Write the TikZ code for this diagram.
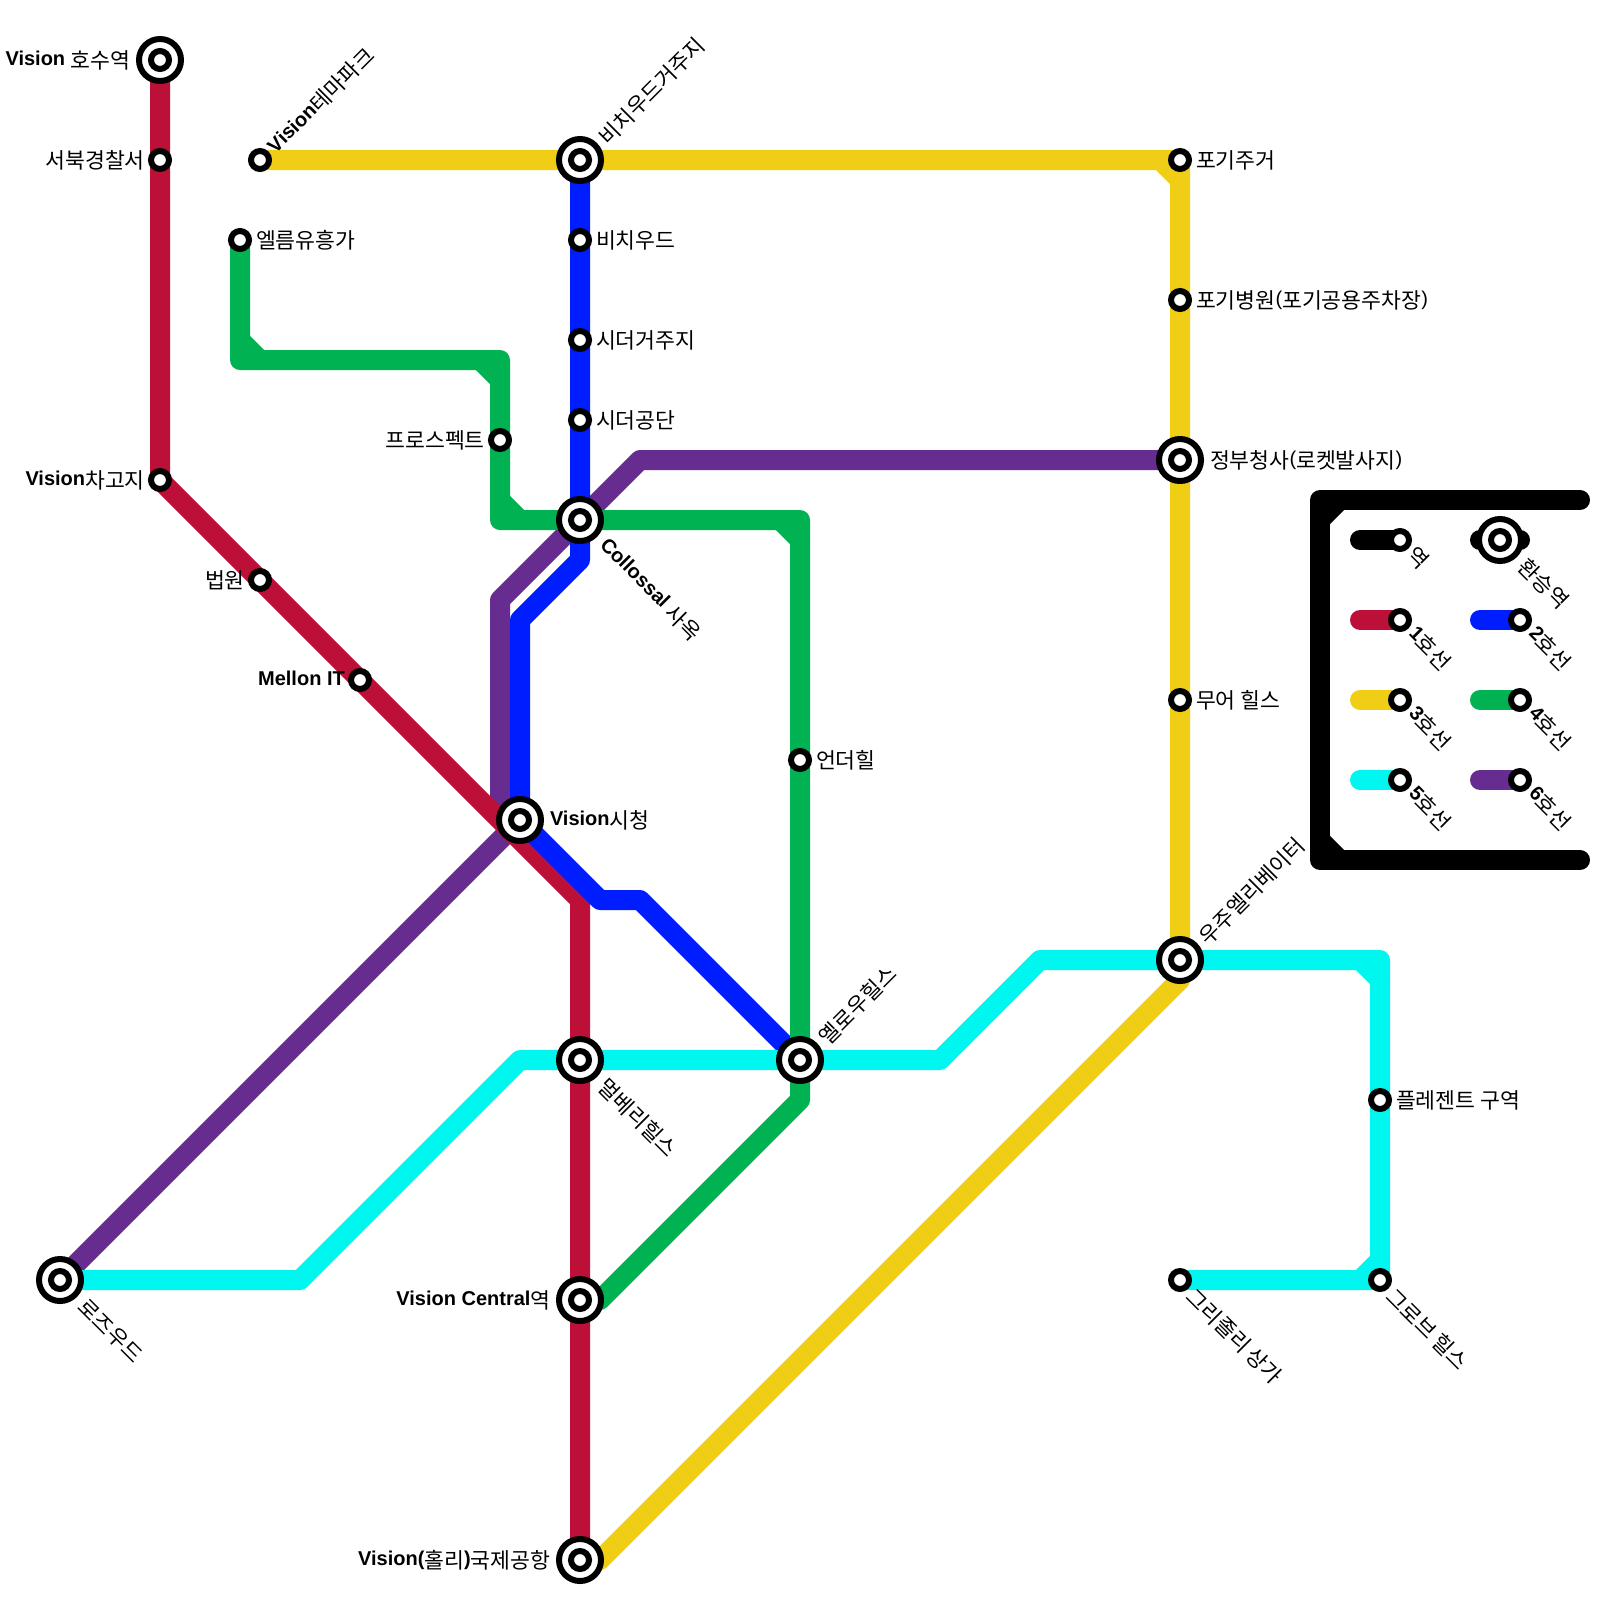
\documentclass[tikz,border=0pt]{standalone}
\usepackage{fontspec}
\setmainfont{Liberation Sans}
\newfontfamily\krfont[Scale=1.08]{Noto Sans CJK KR}
\newcommand{\hg}[1]{\raisebox{-2.1pt}{\krfont #1}}
\usetikzlibrary{backgrounds}
\definecolor{lred}{HTML}{BD1038}
\definecolor{lblue}{HTML}{001DFF}
\definecolor{lyellow}{HTML}{F0CE15}
\definecolor{lgreen}{HTML}{00B251}
\definecolor{lcyan}{HTML}{00F7EF}
\definecolor{lpurple}{HTML}{662C90}
\tikzset{
  stn/.style={circle,draw=black,fill=white,line width=0.15cm,minimum size=0.45cm,inner sep=0,outer sep=0},
  hub/.style={stn,minimum size=1.05cm},
  lbl/.style={inner sep=0,outer sep=0,font=\fontsize{14.23}{17}\selectfont},
  tr/.style={lbl,anchor=base west,xshift=0.4cm,yshift=-0.14cm},
  tl/.style={lbl,anchor=base east,xshift=-0.38cm,yshift=-0.14cm},
  hr/.style={lbl,anchor=base west,xshift=0.75cm,yshift=-0.14cm},
  hl/.style={lbl,anchor=base east,xshift=-0.74cm,yshift=-0.14cm},
  tup/.style={lbl,anchor=base west,shift={(0.78,-0.3)},rotate=45},
  hup/.style={lbl,anchor=base west,shift={(1.3,-0.8)},rotate=45},
  tdn/.style={lbl,anchor=base west,shift={(0.35,0.8)},rotate=-45},
  hdn/.style={lbl,anchor=base west,shift={(0.95,1.3)},rotate=-45},
  key/.style={lbl,anchor=base west,shift={(0.4,0.7)},rotate=-45},
  line/.style={line width=0.5cm,line cap=round,line join=round},
}

\begin{document}
\begin{tikzpicture}[x=0.5cm,y=-0.5cm]
\useasboundingbox (0,0) rectangle (80,80);

% stations
\node[hub] (lake) at (8,3) {};
\node[stn] (police) at (8,8) {};
\node[stn] (depot) at (8,24) {};
\node[stn] (court) at (13,29) {};
\node[stn] (mellon) at (18,34) {};
\node[hub] (cityhall) at (26,41) {};
\node[hub] (mulberry) at (29,53) {};
\node[hub] (central) at (29,65) {};
\node[hub] (airport) at (29,78) {};
\node[stn] (themepark) at (13,8) {};
\node[stn] (elm) at (12,12) {};
\node[stn] (prospect) at (25,22) {};
\node[hub] (beachres) at (29,8) {};
\node[stn] (beach) at (29,12) {};
\node[stn] (cedarres) at (29,17) {};
\node[stn] (cedarind) at (29,21) {};
\node[hub] (collossal) at (29,26) {};
\node[stn] (under) at (40,38) {};
\node[hub] (yellowh) at (40,53) {};
\node[stn] (pogires) at (59,8) {};
\node[stn] (hospital) at (59,15) {};
\node[hub] (gov) at (59,23) {};
\node[stn] (moor) at (59,35) {};
\node[hub] (elevator) at (59,48) {};
\node[stn] (pleasant) at (69,55) {};
\node[stn] (grove) at (69,64) {};
\node[stn] (grizzly) at (59,64) {};
\node[hub] (rosewood) at (3,64) {};
\foreach \h in {lake,cityhall,mulberry,central,airport,beachres,collossal,yellowh,gov,elevator,rosewood}
  \node[stn] (\h-in) at (\h) {};

% labels
\node[hl] (t-lake) at (lake) {\textbf{Vision} \hg{호수역}};
\node[tl] (t-police) at (police) {\hg{서북경찰서}};
\node[tl] (t-depot) at (depot) {\textbf{Vision}\hg{차고지}};
\node[tl] (t-court) at (court) {\hg{법원}};
\node[tl] (t-mellon) at (mellon) {\textbf{Mellon IT}};
\node[hr] (t-cityhall) at (cityhall) {\textbf{Vision}\hg{시청}};
\node[hdn] (t-mulberry) at (mulberry) {\hg{멀베리힐스}};
\node[hl] (t-central) at (central) {\textbf{Vision Central}\hg{역}};
\node[hl] (t-airport) at (airport) {\textbf{Vision(}\hg{홀리}\textbf{)}\hg{국제공항}};
\node[tup] (t-themepark) at (themepark) {\textbf{Vision}\hg{테마파크}};
\node[tr] (t-elm) at (elm) {\hg{엘름유흥가}};
\node[tl] (t-prospect) at (prospect) {\hg{프로스펙트}};
\node[hup] (t-beachres) at (beachres) {\hg{비치우드거주지}};
\node[tr] (t-beach) at (beach) {\hg{비치우드}};
\node[tr] (t-cedarres) at (cedarres) {\hg{시더거주지}};
\node[tr] (t-cedarind) at (cedarind) {\hg{시더공단}};
\node[hdn] (t-collossal) at (collossal) {\textbf{Collossal} \hg{사옥}};
\node[tr] (t-under) at (under) {\hg{언더힐}};
\node[hup] (t-yellowh) at (yellowh) {\hg{옐로우힐스}};
\node[tr] (t-pogires) at (pogires) {\hg{포기주거}};
\node[tr] (t-hospital) at (hospital) {\hg{포기병원}(\hg{포기공용주차장})};
\node[hr] (t-gov) at (gov) {\hg{정부청사}(\hg{로켓발사지})};
\node[tr] (t-moor) at (moor) {\hg{무어 힐스}};
\node[hup] (t-elevator) at (elevator) {\hg{우주엘리베이터}};
\node[tr] (t-pleasant) at (pleasant) {\hg{플레젠트 구역}};
\node[tdn] (t-grove) at (grove) {\hg{그로브 힐스}};
\node[tdn] (t-grizzly) at (grizzly) {\hg{그리졸리 상가}};
\node[hdn] (t-rosewood) at (rosewood) {\hg{로즈우드}};

% key
\foreach \k/\x/\y/\cl/\num in {a/70/31/lred/1,b/76/31/lblue/2,c/70/35/lyellow/3,d/76/35/lgreen/4,e/70/39/lcyan/5,f/76/39/lpurple/6}{
  \node[stn] (key-\k) at (\x,\y) {};
  \coordinate (keyl-\k) at (\x-2,\y);
  \begin{scope}[on background layer]
  \draw[line,\cl] (keyl-\k) -- (key-\k.center);
  \end{scope}
  \node[key] (t-key-\k) at (key-\k) {\textbf{\num}\hg{호선}};
}
\node[stn] (key-st) at (70,27) {};
\coordinate (keyl-st) at (68,27);
\node[key] (t-key-st) at (key-st) {\hg{역}};
\node[hub] (key-h) at (75,27) {};
\node[stn] (key-h-in) at (key-h) {};
\coordinate (keyl-h) at (74,27);
\coordinate (keyr-h) at (76,27);
\node[hdn] (t-key-h) at (key-h) {\hg{환승역}};

% bends
\coordinate (r2) at (29,45);
\coordinate (b1) at (29,28);
\coordinate (b2) at (26,31);
\coordinate (b3) at (30,45);
\coordinate (b4) at (32,45);
\coordinate (g1) at (12,18);
\coordinate (g2) at (25,18);
\coordinate (g3) at (25,26);
\coordinate (g4) at (40,26);
\coordinate (g5) at (40,55);
\coordinate (g6) at (30,65);
\coordinate (p1) at (25,40);
\coordinate (p2) at (25,30);
\coordinate (p3) at (32,23);
\coordinate (c1) at (15,64);
\coordinate (c2) at (26,53);
\coordinate (c3) at (47,53);
\coordinate (c4) at (52,48);
\coordinate (c5) at (69,48);
\coordinate (y1) at (59,49);
\coordinate (y2) at (30,78);
\coordinate (f1) at (79,25);
\coordinate (f2) at (66,25);
\coordinate (f3) at (66,43);
\coordinate (f4) at (79,43);

% lines
\begin{scope}[on background layer]
\draw[line,black] (f1) -- (f2) -- (f3) -- (f4);
\draw[line,black] (f2) ++(0,1) -- ++(1,-1);
\draw[line,black] (f3) ++(0,-1) -- ++(1,1);
\draw[line,black] (keyl-st) -- (key-st.center);
\draw[line,black] (keyl-h) -- (keyr-h);
\draw[line,lpurple] (rosewood.center) -- (cityhall.center) -- (p1) -- (p2) -- (collossal.center) -- (p3) -- (gov.center);
\draw[line,lred] (lake.center) -- (police.center) -- (depot.center) -- (court.center) -- (mellon.center) -- (r2) -- (mulberry.center) -- (central.center) -- (airport.center);
\draw[line,lblue] (beachres.center) -- (beach.center) -- (cedarres.center) -- (cedarind.center) -- (collossal.center) -- (b1) -- (b2) -- (cityhall.center) -- (b3) -- (b4) -- (yellowh.center);
\draw[line,lgreen] (elm.center) -- (g1) -- (g2) -- (prospect.center) -- (g3) -- (collossal.center) -- (g4) -- (under.center) -- (yellowh.center) -- (g5) -- (g6) -- (central.center);
\draw[line,lgreen] (g1) ++(0,-1) -- ++(1,1);
\draw[line,lgreen] (g2) ++(-1,0) -- ++(1,1);
\draw[line,lgreen] (g3) ++(0,-1) -- ++(1,1);
\draw[line,lgreen] (g4) ++(-1,0) -- ++(1,1);
\draw[line,lcyan] (rosewood.center) -- (c1) -- (c2) -- (mulberry.center) -- (yellowh.center) -- (c3) -- (c4) -- (elevator.center) -- (c5) -- (pleasant.center) -- (grove.center) -- (grizzly.center);
\draw[line,lcyan] (c5) ++(-1,0) -- ++(1,1);
\draw[line,lcyan] (grove) ++(0,-1) -- ++(-1,1);
\draw[line,lyellow] (themepark.center) -- (beachres.center) -- (pogires.center) -- (hospital.center) -- (gov.center) -- (moor.center) -- (elevator.center) -- (y1) -- (y2) -- (airport.center);
\draw[line,lyellow] (pogires) ++(-1,0) -- ++(1,1);
\end{scope}
\end{tikzpicture}
\end{document}
